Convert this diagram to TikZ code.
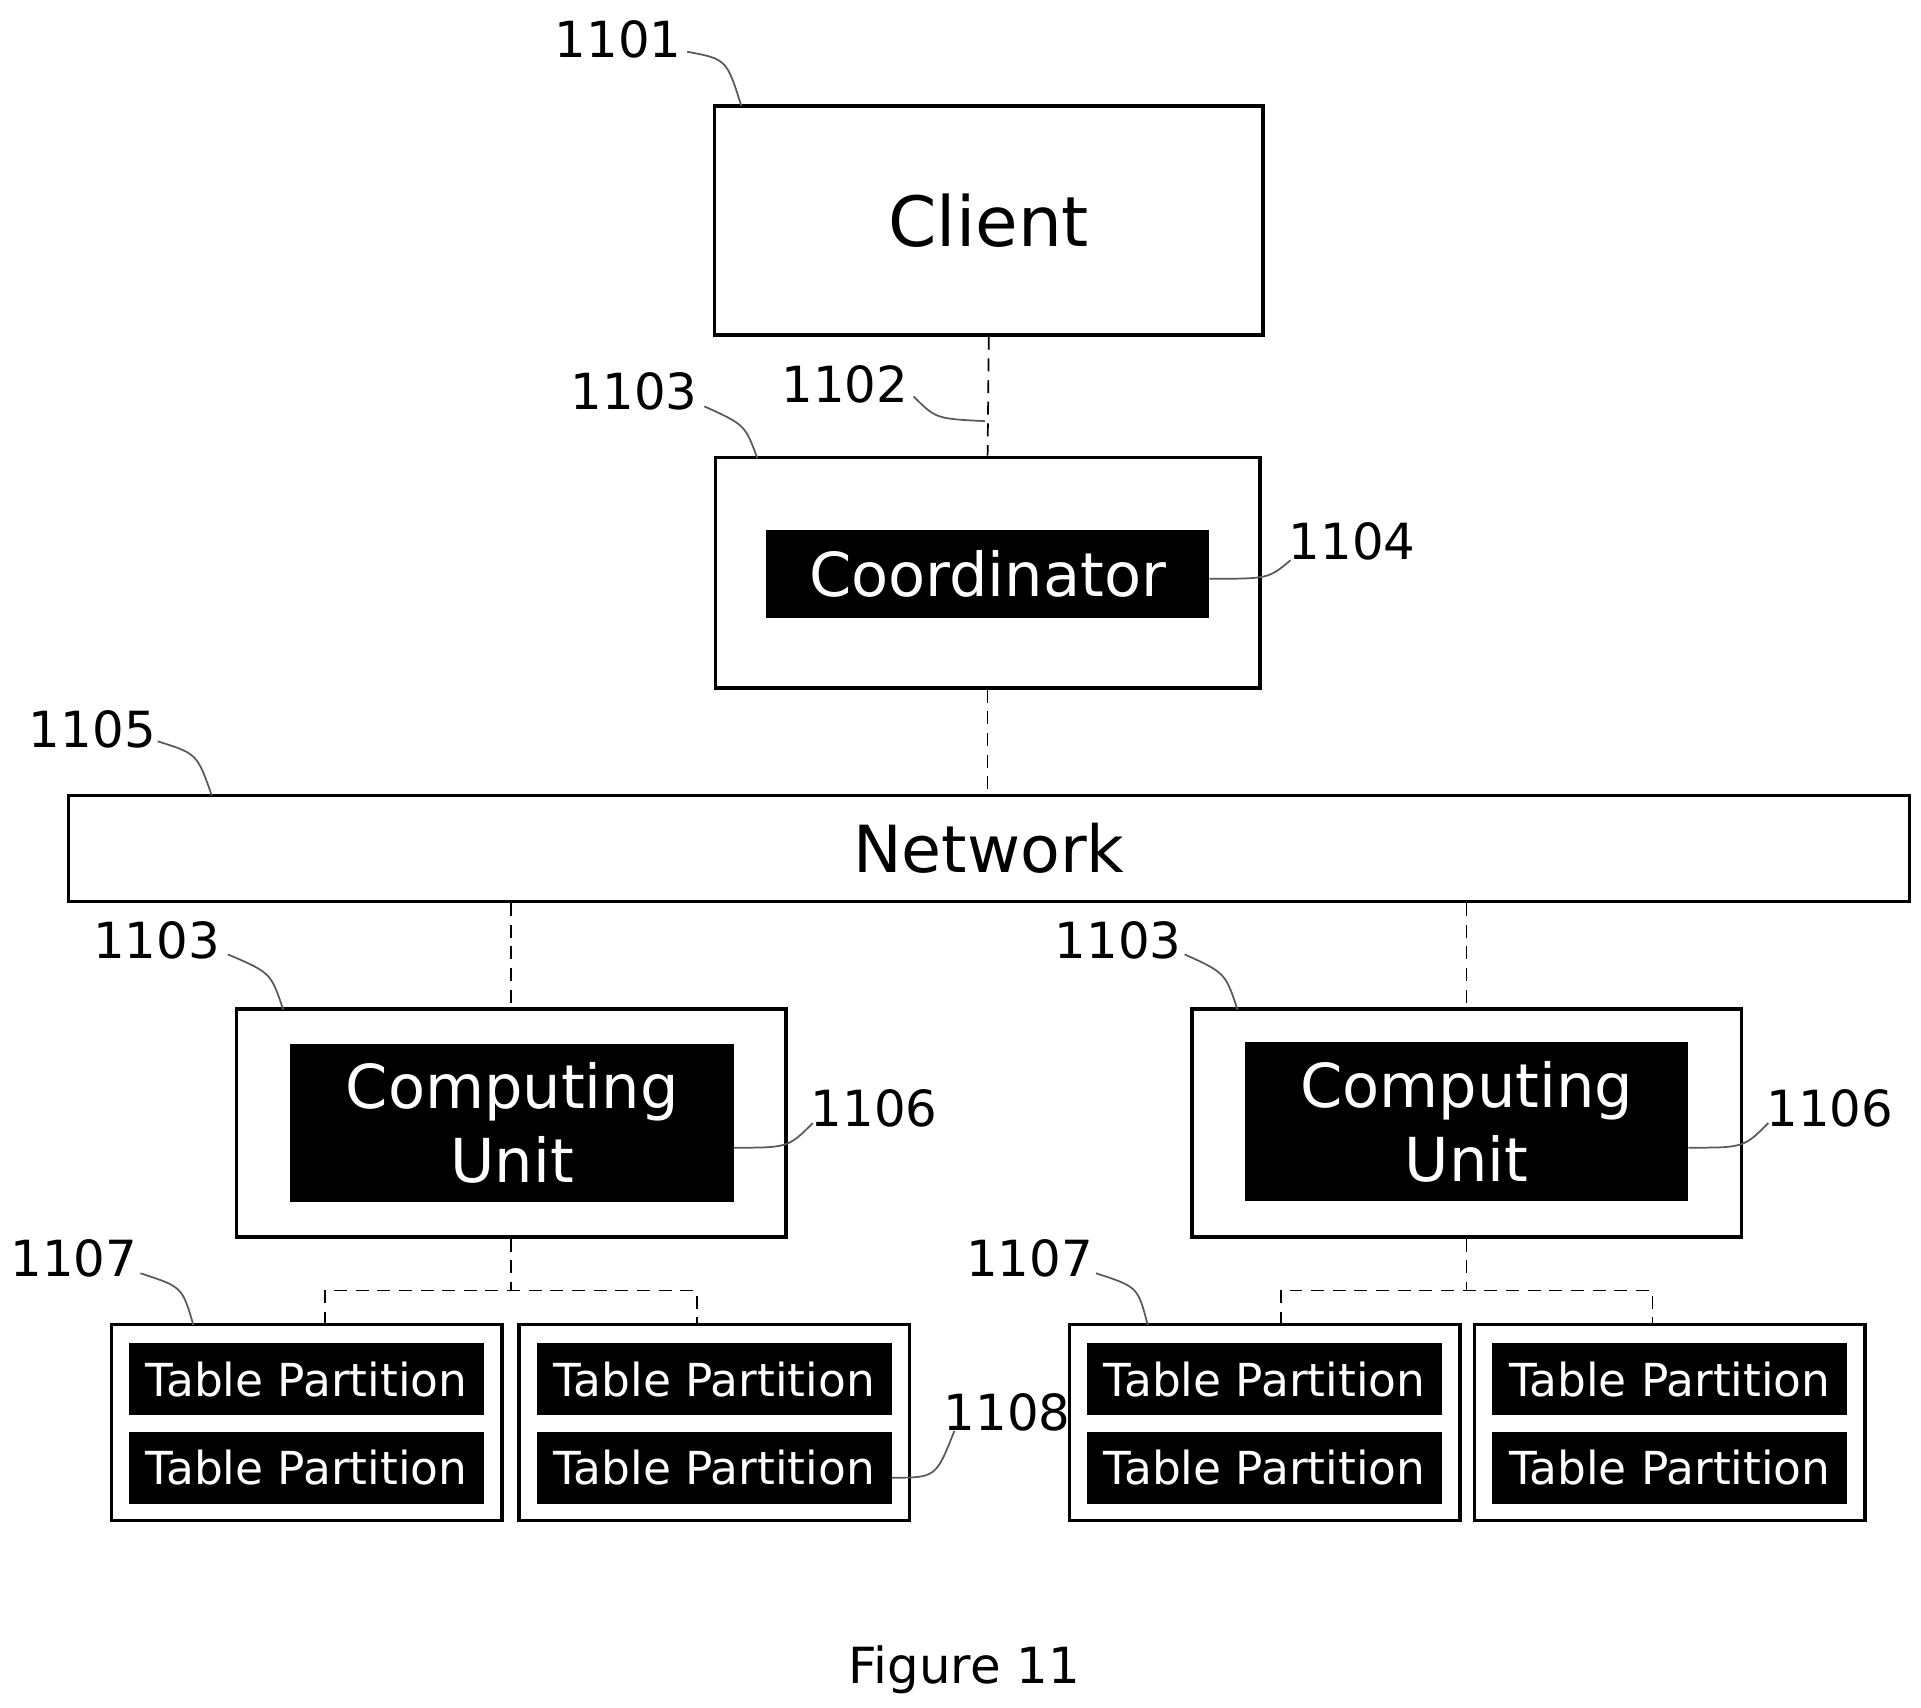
\documentclass[tikz,border=0pt]{standalone}
\usepackage{fontspec}
\setmainfont{DejaVu Sans}
\usetikzlibrary{positioning}
\begin{document}
\begin{tikzpicture}[x=0.01cm,y=-0.01cm,
                box/.style={draw,thick,inner sep=0pt},
                blk/.style={fill=black,text=white,inner sep=0pt,align=center},
                lab/.style={font=\fontsize{11.5}{13}\selectfont},
                lead/.style={thin,gray!70!black},
                link/.style={densely dashed,thin}]
                \useasboundingbox (0,0) rectangle (1560,1387);
                \node[box,minimum width=445\pgflinewidth*0+4.45cm,minimum height=1.86cm,font=\fontsize{16}{18}\selectfont] (client) at (803,179){Client};
                \node[box,minimum width=4.42cm,minimum height=1.87cm] (coordbox) at (802,465){};
                \node[blk,minimum width=3.59cm,minimum height=0.71cm,font=\fontsize{14}{16}\selectfont] (coord) at (802,466){Coordinator};
                \node[box,minimum width=14.94cm,minimum height=0.86cm,font=\fontsize{15}{17}\selectfont] (net) at (803,689){Network};
                % computing units
                \node[box,minimum width=4.46cm,minimum height=1.85cm] (cul) at (415,912){};
                \node[blk,minimum width=3.6cm,minimum height=1.28cm,font=\fontsize{14}{17}\selectfont] (cuinl) at (416,912){Computing\\Unit};
                \node[box,minimum width=4.46cm,minimum height=1.85cm] (cur) at (1191,912){};
                \node[blk,minimum width=3.6cm,minimum height=1.29cm,font=\fontsize{14}{17}\selectfont] (cuinr) at (1191,911){Computing\\Unit};
                % table partitions
                \foreach \n/\x in {a/249,b/580,c/1027,d/1356}{
                  \node[box,minimum width=3.17cm,minimum height=1.59cm] (tp\n) at (\x,1155){};
                  \node[blk,minimum width=2.88cm,minimum height=0.58cm,font=\fontsize{10.5}{12}\selectfont] (tp\n1) at (\x,1120){Table Partition};
                  \node[blk,minimum width=2.88cm,minimum height=0.58cm,font=\fontsize{10.5}{12}\selectfont] (tp\n2) at (\x,1192){Table Partition};
                }
                % connectors
                \draw[link] (client.south) -- (coordbox.north);
                \draw[link] (coordbox.south) -- (coordbox.south |- net.north);
                \draw[link] (cul.north |- net.south) -- (cul.north);
                \draw[link] (cur.north |- net.south) -- (cur.north);
                \draw[link] (cul.south) -- (415,1048) coordinate (jl);
                \draw[link] (264,1076) -- (264,1048) -- (566,1048) -- (566,1076);
                \draw[link] (cur.south) -- (1191,1048) coordinate (jr);
                \draw[link] (1040,1076) -- (1040,1048) -- (1342,1048) -- (1342,1076);
                % labels
                \node[lab] (l1101) at (502,32){1101};
                \draw[lead] (558,42) .. controls (590,48) .. (602,86);
                \node[lab] (l1103a) at (515,318){1103};
                \draw[lead] (572,330) .. controls (605,345) .. (615,372);
                \node[lab] (l1102) at (686,312){1102};
                \draw[lead] (742,322) .. controls (760,340) .. (800,342);
                \node[lab] (l1104) at (1098,440){1104};
                \draw[lead] (1048,455) .. controls (1030,470) .. (982,470);
                \node[lab] (l1105) at (75,592){1105};
                \draw[lead] (128,602) .. controls (160,612) .. (172,646);
                \node[lab] (l1103b) at (127,764){1103};
                \draw[lead] (185,775) .. controls (220,790) .. (230,820);
                \node[lab] (l1103c) at (908,764){1103};
                \draw[lead] (962,775) .. controls (995,790) .. (1005,820);
                \node[lab] (l1106a) at (710,900){1106};
                \draw[lead] (660,912) .. controls (640,932) .. (596,932);
                \node[lab] (l1106b) at (1486,900){1106};
                \draw[lead] (1436,912) .. controls (1416,932) .. (1371,932);
                \node[lab] (l1107a) at (60,1022){1107};
                \draw[lead] (114,1034) .. controls (148,1045) .. (157,1076);
                \node[lab] (l1107b) at (836,1022){1107};
                \draw[lead] (890,1034) .. controls (924,1045) .. (932,1076);
                \node[lab] (l1108) at (818,1147){1108};
                \draw[lead] (775,1162) .. controls (760,1200) .. (724,1200);
                \node[font=\fontsize{11.5}{13}\selectfont] (fig) at (783,1356){Figure 11};
            \end{tikzpicture}
\end{document}
